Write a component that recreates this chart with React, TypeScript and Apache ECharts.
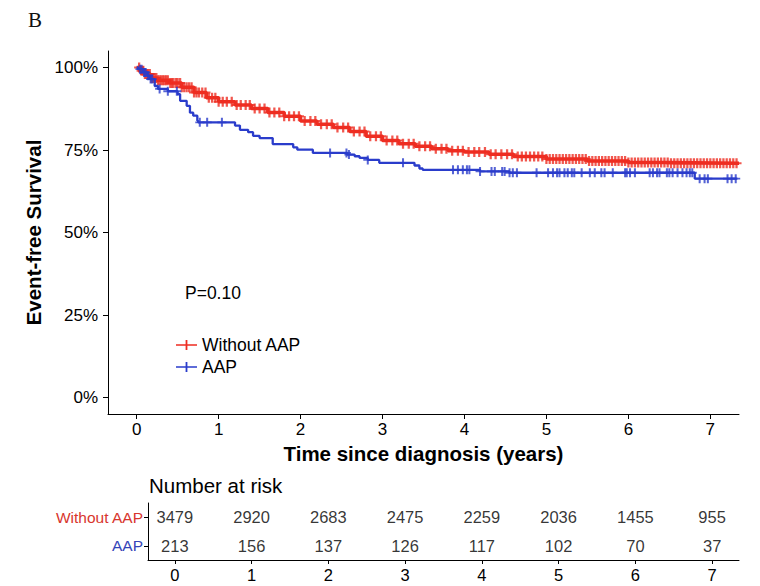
import React, { useEffect, useRef } from "react";
import * as echarts from "echarts";

const FONT = "'Liberation Sans', Arial, Helvetica, sans-serif";
const RED = "#EE2D22";
const BLUE = "#2A3CCB";

const groups = ["Without AAP", "AAP"];
const xTicks = [0, 1, 2, 3, 4, 5, 6, 7];
const yTicks = [0, 0.25, 0.5, 0.75, 1];

const redTimes = [0, 0.05, 0.1, 0.17, 0.25, 0.4, 0.55, 0.7, 0.85, 1.0, 1.2, 1.4, 1.6, 1.8, 2.0, 2.2, 2.4, 2.6, 2.8, 3.0, 3.2, 3.4, 3.6, 3.8, 4.0, 4.3, 4.6, 5.0, 5.5, 6.0, 6.5, 7.35];
const redSurv = [1.0, 0.99, 0.98, 0.968, 0.961, 0.953, 0.94, 0.924, 0.908, 0.896, 0.886, 0.876, 0.864, 0.852, 0.838, 0.828, 0.818, 0.806, 0.792, 0.779, 0.769, 0.761, 0.754, 0.748, 0.744, 0.737, 0.73, 0.723, 0.717, 0.712, 0.71, 0.709];

const blueTimes = [0, 0.02, 0.08, 0.13, 0.16, 0.22, 0.26, 0.38, 0.5, 0.53, 0.61, 0.65, 0.69, 0.74, 0.75, 1.2, 1.26, 1.36, 1.42, 1.5, 1.66, 1.91, 1.96, 2.15, 2.57, 2.66, 2.72, 2.82, 2.96, 3.39, 3.45, 3.49, 4.19, 4.55, 6.81, 7.33];
const blueSurv = [1.0, 0.995, 0.985, 0.975, 0.965, 0.944, 0.935, 0.928, 0.919, 0.899, 0.884, 0.863, 0.854, 0.839, 0.834, 0.824, 0.811, 0.804, 0.793, 0.786, 0.768, 0.758, 0.751, 0.741, 0.736, 0.731, 0.726, 0.72, 0.711, 0.703, 0.694, 0.69, 0.685, 0.681, 0.663, 0.663];

const redCensor = [0.03, 0.06, 0.08, 0.1, 0.12, 0.14, 0.16, 0.18, 0.2, 0.22, 0.24, 0.26, 0.28, 0.3, 0.32, 0.34, 0.36, 0.38, 0.41, 0.43, 0.45, 0.48, 0.5, 0.53, 0.55, 0.58, 0.61, 0.64, 0.67, 0.7, 0.73, 0.76, 0.8, 0.84, 0.88, 0.92, 0.96, 1.0, 1.05, 1.1, 1.16, 1.22, 1.27, 1.33, 1.38, 1.44, 1.5, 1.56, 1.62, 1.68, 1.74, 1.8, 1.86, 1.92, 1.98, 2.05, 2.12, 2.18, 2.25, 2.32, 2.38, 2.45, 2.52, 2.58, 2.65, 2.72, 2.78, 2.85, 2.92, 2.98, 3.05, 3.12, 3.18, 3.25, 3.32, 3.38, 3.45, 3.52, 3.58, 3.65, 3.72, 3.78, 3.85, 3.92, 3.98, 4.05, 4.12, 4.18, 4.25, 4.32, 4.38, 4.45, 4.52, 4.58, 4.65, 4.7, 4.75, 4.8, 4.85, 4.9, 4.95, 5.0, 5.04, 5.08, 5.12, 5.16, 5.2, 5.24, 5.28, 5.32, 5.36, 5.4, 5.44, 5.48, 5.52, 5.56, 5.6, 5.64, 5.68, 5.72, 5.76, 5.8, 5.84, 5.88, 5.92, 5.96, 6.0, 6.04, 6.08, 6.12, 6.16, 6.2, 6.24, 6.28, 6.32, 6.36, 6.4, 6.44, 6.48, 6.52, 6.56, 6.6, 6.64, 6.68, 6.72, 6.76, 6.8, 6.84, 6.88, 6.92, 6.96, 7.0, 7.04, 7.08, 7.12, 7.16, 7.2, 7.24, 7.28, 7.32];
const blueCensor = [0.04, 0.06, 0.09, 0.11, 0.14, 0.17, 0.19, 0.28, 0.38, 0.49, 0.77, 0.86, 1.04, 2.36, 2.56, 2.59, 2.82, 3.25, 3.86, 3.92, 3.98, 4.03, 4.06, 4.19, 4.33, 4.37, 4.46, 4.49, 4.55, 4.59, 4.64, 4.88, 5.02, 5.08, 5.13, 5.16, 5.22, 5.26, 5.31, 5.34, 5.43, 5.53, 5.59, 5.67, 5.71, 5.81, 5.96, 5.98, 6.02, 6.08, 6.26, 6.3, 6.35, 6.38, 6.47, 6.5, 6.54, 6.6, 6.66, 6.71, 6.75, 6.78, 6.87, 6.93, 6.97, 7.21, 7.26, 7.31];

const riskTimes = [0, 1, 2, 3, 4, 5, 6, 7];
const riskWithout = [3479, 2920, 2683, 2475, 2259, 2036, 1455, 955];
const riskAAP = [213, 156, 137, 126, 117, 102, 70, 37];

const PLUS = "path://M3.1,0H4.9V8H3.1ZM0,3.2H8V4.8H0Z";

function stepAt(times: number[], surv: number[], t: number) {
  let v = surv[0];
  for (let i = 0; i < times.length; i++) {
    if (times[i] <= t) v = surv[i];
    else break;
  }
  return v;
}

export default function App() {
  const ref = useRef<HTMLDivElement>(null);
  useEffect(() => {
    if (!ref.current) return;
    const chart = echarts.init(ref.current, undefined, { renderer: "svg" });
    const black = "#000";
    const option: any = {
      animation: false,
      backgroundColor: "#fff",
      textStyle: { fontFamily: FONT },
      grid: [
        { left: 108, right: 21, top: 51, height: 363 },
        { left: 148, right: 21, top: 503, height: 57 },
      ],
      xAxis: [
        {
          gridIndex: 0,
          type: "value",
          min: -0.35,
          max: 7.35,
          splitLine: { show: false },
          axisLine: { show: true, onZero: false, lineStyle: { color: black, width: 1 } },
          axisTick: { show: true, customValues: xTicks, length: 5, lineStyle: { color: black } },
          axisLabel: { customValues: xTicks, fontSize: 17, color: black, margin: 7, fontFamily: FONT },
          name: "Time since diagnosis (years)",
          nameLocation: "middle",
          nameGap: 23,
          nameTextStyle: { fontSize: 20.5, fontWeight: "bold", color: black, fontFamily: FONT },
        },
        {
          gridIndex: 1,
          type: "value",
          min: -0.35,
          max: 7.35,
          splitLine: { show: false },
          axisLine: { show: true, onZero: false, lineStyle: { color: black, width: 1 } },
          axisTick: { show: true, customValues: xTicks, length: 4, lineStyle: { color: black } },
          axisLabel: { customValues: xTicks, fontSize: 16.5, color: black, margin: 6, fontFamily: FONT },
        },
      ],
      yAxis: [
        {
          gridIndex: 0,
          type: "value",
          min: -0.05,
          max: 1.05,
          splitLine: { show: false },
          axisLine: { show: true, onZero: false, lineStyle: { color: black, width: 1 } },
          axisTick: { show: true, customValues: yTicks, length: 5, lineStyle: { color: black } },
          axisLabel: {
            customValues: yTicks,
            fontSize: 17,
            color: black,
            margin: 10,
            fontFamily: FONT,
            formatter: (v: number) => `${Math.round(v * 100)}%`,
          },
          name: "Event-free Survival",
          nameLocation: "middle",
          nameGap: 58,
          nameTextStyle: { fontSize: 20.5, fontWeight: "bold", color: black, fontFamily: FONT },
        },
        {
          gridIndex: 1,
          type: "category",
          data: groups,
          inverse: true,
          splitLine: { show: false },
          axisLine: { show: true, onZero: false, lineStyle: { color: black, width: 1 } },
          axisTick: { show: true, alignWithLabel: true, length: 4, lineStyle: { color: black } },
          axisLabel: {
            fontSize: 15.5,
            margin: 5,
            fontFamily: FONT,
            color: (v: string) => (v === "AAP" ? "#3444B8" : "#D8362E"),
          },
        },
      ],
      legend: {
        data: groups,
        orient: "vertical",
        left: 171,
        top: 331,
        itemWidth: 21,
        itemHeight: 10,
        itemGap: 4,
        icon: "path://M0,4.2H21V5.8H0ZM9.6,0H11.4V10H9.6Z",
        textStyle: { fontSize: 17.5, color: black, fontFamily: FONT },
      },
      graphic: [
        { type: "text", left: 28, top: 9, style: { text: "B", font: "21px 'Liberation Serif', 'DejaVu Serif', serif", fill: "#111" } },
        { type: "text", x: 185, y: 293, style: { text: "P=0.10", fontSize: 17.5, fontFamily: FONT, fill: black, verticalAlign: "middle" } },
        { type: "text", x: 149, y: 485, style: { text: "Number at risk", fontSize: 20.5, fontFamily: FONT, fill: black, verticalAlign: "middle" } },
      ],
      series: [
        {
          name: "Without AAP",
          type: "line",
          xAxisIndex: 0,
          yAxisIndex: 0,
          step: "end",
          symbol: "none",
          color: RED,
          lineStyle: { width: 3.5, color: RED },
          data: redTimes.map((t, i) => [t, redSurv[i]]),
          z: 2,
        },
        {
          name: "Without AAP",
          type: "scatter",
          xAxisIndex: 0,
          yAxisIndex: 0,
          symbol: PLUS,
          symbolSize: 10,
          silent: true,
          itemStyle: { color: RED },
          data: redCensor.map((t) => [t, stepAt(redTimes, redSurv, t)]),
          z: 2,
        },
        {
          name: "AAP",
          type: "line",
          xAxisIndex: 0,
          yAxisIndex: 0,
          step: "end",
          symbol: "none",
          color: BLUE,
          lineStyle: { width: 2.3, color: BLUE },
          data: blueTimes.map((t, i) => [t, blueSurv[i]]),
          z: 3,
        },
        {
          name: "AAP",
          type: "scatter",
          xAxisIndex: 0,
          yAxisIndex: 0,
          symbol: PLUS,
          symbolSize: 9,
          silent: true,
          itemStyle: { color: BLUE },
          data: blueCensor.map((t) => [t, stepAt(blueTimes, blueSurv, t)]),
          z: 3,
        },
        {
          type: "scatter",
          xAxisIndex: 1,
          yAxisIndex: 1,
          symbolSize: 1,
          silent: true,
          itemStyle: { color: "transparent" },
          label: { show: true, position: "inside", formatter: (p: any) => String(p.value[2]), fontSize: 16.5, color: black, fontFamily: FONT },
          data: riskTimes.map((t, i) => [t, 0, riskWithout[i]]),
        },
        {
          type: "scatter",
          xAxisIndex: 1,
          yAxisIndex: 1,
          symbolSize: 1,
          silent: true,
          itemStyle: { color: "transparent" },
          label: { show: true, position: "inside", formatter: (p: any) => String(p.value[2]), fontSize: 16.5, color: black, fontFamily: FONT },
          data: riskTimes.map((t, i) => [t, 1, riskAAP[i]]),
        },
      ],
    };
    chart.setOption(option);
    return () => chart.dispose();
  }, []);
  return <div ref={ref} style={{ width: 760, height: 586, position: "absolute", left: 0, top: 0 }} />;
}
